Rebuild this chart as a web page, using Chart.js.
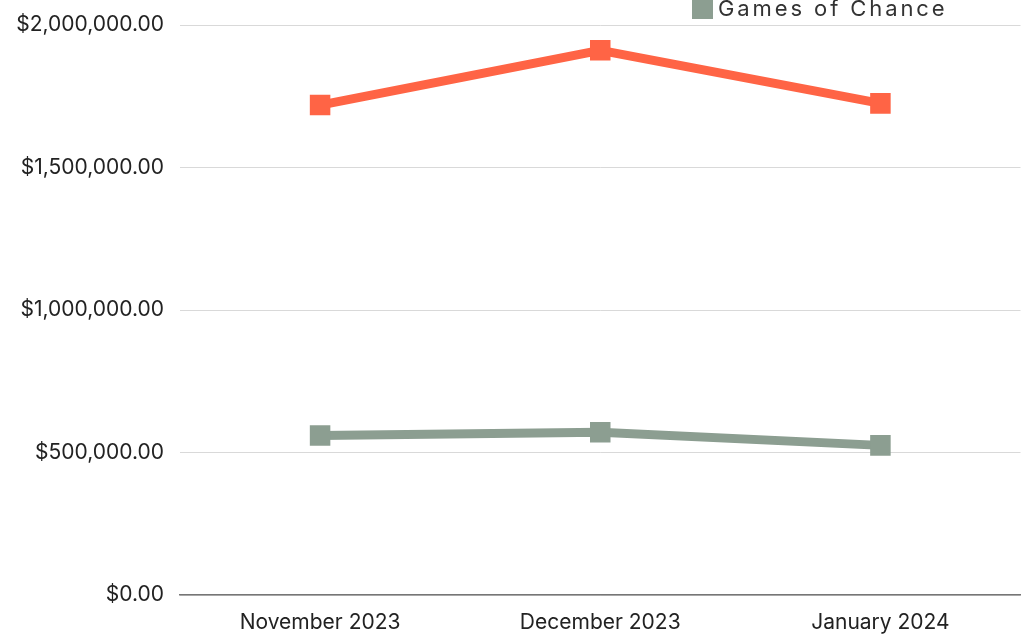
<!DOCTYPE html>
<html lang="en">
<head>
<meta charset="UTF-8">
<title>Monthly revenue</title>
<script src="https://cdn.jsdelivr.net/npm/chart.js"></script>
<style>
    html, body { margin: 0; padding: 0; background: #fff; }
    body { width: 1022px; height: 635px; overflow: hidden; position: relative; font-family: Inter, Roboto, sans-serif; }
    /* a bit wider than the page: chart.js keeps room for the big square markers on the right */
    #wrap { position: absolute; left: 0; top: 0; width: 1035px; height: 635px; }
    .legend { position: absolute; left: 692px; top: -5px; font-size: 22px; letter-spacing: 2.9px; color: #333; white-space: nowrap; line-height: 26px; }
    .legend .box { display: inline-block; width: 21px; height: 21px; background: #8c9e91; vertical-align: -3px; margin-right: 5px; }
</style>
</head>
<body>
<div id="wrap"><canvas id="chart"></canvas></div>
<div class="legend"><span class="box"></span>Games of Chance</div>

<script>
// data
const months = ['November 2023', 'December 2023', 'January 2024'];
const otherValues = [1719000, 1911000, 1725000];
const gamesOfChance = [560000, 571000, 525000];
const yTicks = [0, 500000, 1000000, 1500000, 2000000];

const money = v => '$' + v.toLocaleString('en-US', { minimumFractionDigits: 2, maximumFractionDigits: 2 });

const ctx = document.getElementById('chart').getContext('2d');
new Chart(ctx, {
    type: 'line',
    data: {
        labels: months,
        datasets: [
            {
                label: 'Other',
                data: otherValues,
                borderColor: '#ff6445', backgroundColor: '#ff6445',
                borderWidth: 9, tension: 0,
                pointStyle: 'rect', pointRadius: 14.5, pointBorderWidth: 0,
                pointHoverRadius: 14.5
            },
            {
                label: 'Games of Chance',
                data: gamesOfChance,
                borderColor: '#8c9e91', backgroundColor: '#8c9e91',
                borderWidth: 9, tension: 0,
                pointStyle: 'rect', pointRadius: 14.5, pointBorderWidth: 0,
                pointHoverRadius: 14.5
            }
        ]
    },
    options: {
        responsive: true, maintainAspectRatio: false, animation: false,
        layout: { padding: { top: 25, right: 0, left: 0, bottom: 0 } },
        plugins: { legend: { display: false }, tooltip: { enabled: false } },
        scales: {
            x: {
                offset: true,
                grid: { display: false },
                border: { display: true, color: '#767676', width: 1.5 },
                ticks: { color: '#222', font: { family: 'Inter', size: 21 }, padding: 7, maxRotation: 0 },
                afterFit: s => { s.height = 40; s.paddingLeft = 0; s.paddingRight = 0; }
            },
            y: {
                min: 0, max: 2000000,
                afterBuildTicks: s => { s.ticks = yTicks.map(v => ({ value: v })); },
                grid: { color: '#d9d9d9', lineWidth: 1, drawTicks: false },
                border: { display: false },
                ticks: { color: '#222', font: { family: 'Inter', size: 21 }, padding: 16, callback: v => money(v) },
                afterFit: s => { s.width = 180; s.paddingTop = 0; s.paddingBottom = 0; }
            }
        }
    }
});
</script>
</body>
</html>
